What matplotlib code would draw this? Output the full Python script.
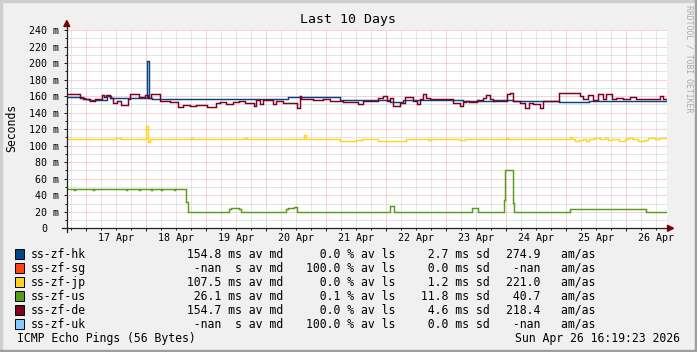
import numpy as np
import matplotlib.pyplot as plt
from matplotlib.patches import Rectangle, Polygon
from matplotlib.lines import Line2D
from matplotlib.transforms import ScaledTranslation

plt.rcParams['font.family'] = 'DejaVu Sans Mono'

W, H = 697, 352

# time axis: day of April 2026 (16 Apr 16:19 .. 26 Apr 16:19)
t_start = 16 + 16.32 / 24
t_end = t_start + 10

day_ticks = list(range(17, 27))
day_labels = ['17 Apr', '18 Apr', '19 Apr', '20 Apr', '21 Apr',
              '22 Apr', '23 Apr', '24 Apr', '25 Apr', '26 Apr']

# median rtt per host (ms), step series: start time, value
hk_t = [16.68, 16.95, 17.05, 17.35, 17.42, 18.02, 18.05, 18.10, 20.37, 21.23,
        22.06, 22.28, 23.28, 23.80, 24.12, 24.89, 25.39, 25.50]
hk_v = [158.5, 156.5, 155.5, 160, 158, 202, 157.5, 156.5, 158.5, 155.5,
        152.5, 155, 154.5, 155, 154, 152.5, 154.5, 153.5]

jp_t = [16.68, 17.50, 17.58, 18.00, 18.03, 18.06, 18.75, 18.78, 19.65, 19.68,
        20.63, 20.66, 21.23, 21.50, 21.60, 21.87, 22.34, 22.72, 22.75, 23.23,
        23.31, 24.01, 24.04, 25.06, 25.10, 25.15, 25.22, 25.28, 25.33, 25.39,
        25.47, 25.57, 25.65, 25.70, 25.76, 25.89, 25.98, 26.03, 26.12, 26.20,
        26.30, 26.37, 26.48, 26.55]
jp_v = [108, 109.5, 108, 124, 105, 108, 109, 108, 109, 108,
        112.5, 108, 105.5, 106.5, 108, 105.5, 108, 107, 108, 106.5,
        108, 109.5, 108, 110.5, 107.5, 105.5, 106.5, 107.5, 106, 108,
        109, 108, 109.5, 106.5, 108, 105.5, 107.5, 109, 108, 105.5,
        106.5, 109.5, 108.5, 109.5]

us_t = [16.68, 16.80, 16.82, 17.12, 17.14, 17.67, 17.69, 17.88, 17.90, 18.08,
        18.10, 18.25, 18.27, 18.47, 18.49, 18.66, 18.70, 19.39, 19.42, 19.55,
        19.58, 20.33, 20.36, 20.47, 20.52, 22.07, 22.14, 23.43, 23.53, 23.97,
        23.99, 24.11, 24.14, 25.07, 26.33]
us_v = [47, 46, 47, 46, 47, 46, 47, 46, 47, 46,
        47, 46, 47, 46, 47, 32, 19.5, 23, 24.5, 23,
        19.5, 23, 24.5, 26, 19.5, 27, 19.5, 24, 19.5, 34,
        70, 31, 19.5, 23.5, 19.5]

de_t = [16.68, 16.90, 16.98, 17.06, 17.15, 17.26, 17.30, 17.34, 17.40, 17.45,
        17.51, 17.59, 17.70, 17.73, 17.89, 17.98, 18.03, 18.09, 18.23, 18.40,
        18.53, 18.62, 18.73, 18.84, 19.01, 19.17, 19.23, 19.34, 19.45, 19.55,
        19.65, 19.80, 19.84, 19.90, 19.95, 20.12, 20.17, 20.28, 20.51, 20.56,
        20.59, 20.78, 20.95, 21.06, 21.28, 21.53, 21.62, 21.87, 21.95, 22.01,
        22.06, 22.12, 22.23, 22.31, 22.45, 22.51, 22.56, 22.62, 22.67, 22.73,
        22.95, 23.12, 23.23, 23.28, 23.34, 23.39, 23.51, 23.62, 23.67, 23.73,
        23.78, 24.01, 24.06, 24.12, 24.23, 24.31, 24.39, 24.45, 24.56, 24.62,
        24.89, 25.23, 25.28, 25.37, 25.45, 25.53, 25.62, 25.67, 25.76, 25.84,
        25.95, 26.06, 26.17, 26.56, 26.62]
de_v = [162, 158, 156, 154, 157, 161, 159, 161, 158, 152,
        154, 149, 156, 162, 159, 161, 158, 162, 154, 153,
        147, 149, 148, 149, 147, 152, 153, 151, 153, 154,
        152, 148, 155, 150, 155, 150, 154, 152, 146, 160,
        156, 155, 157, 154, 153, 150, 154, 158, 160, 154,
        158, 148, 152, 159, 154, 150, 157, 162, 158, 156,
        157, 152, 148, 153, 154, 153, 155, 158, 161, 156,
        154, 162, 164, 154, 152, 146, 152, 150, 146, 154,
        164, 160, 156, 161, 155, 162, 156, 163, 156, 158,
        156, 159, 156, 160, 156]

# legend table
names = ['ss-zf-hk', 'ss-zf-sg', 'ss-zf-jp', 'ss-zf-us', 'ss-zf-de', 'ss-zf-uk']
colors = ['#004586', '#ff420e', '#ffd320', '#579d1c', '#7e0021', '#83caff']
med = [154.8, np.nan, 107.5, 26.1, 154.7, np.nan]
loss = [0.0, 100.0, 0.0, 0.1, 0.0, 100.0]
sd = [2.7, 0.0, 1.2, 11.8, 4.6, 0.0]
ratio = [274.9, np.nan, 221.0, 40.7, 218.4, np.nan]

series = {'ss-zf-hk': (hk_t, hk_v), 'ss-zf-jp': (jp_t, jp_v),
          'ss-zf-us': (us_t, us_v), 'ss-zf-de': (de_t, de_v)}


def fx(px):
    return px / W


def fy(py):
    return 1 - py / H


fig = plt.figure(figsize=(W / 100, H / 100), dpi=100, facecolor='#F0F0F0')

# shaded border like rrdtool
fig.patches.append(Rectangle((0, fy(2)), 1, 2 / H, transform=fig.transFigure, color='#CFCFCF'))
fig.patches.append(Rectangle((0, 0), 2 / W, 1, transform=fig.transFigure, color='#CFCFCF'))
fig.patches.append(Rectangle((0, 0), 1, 2 / H, transform=fig.transFigure, color='#9E9E9E'))
fig.patches.append(Rectangle((fx(W - 2), 0), 2 / W, 1, transform=fig.transFigure, color='#9E9E9E'))

ax_top, ax_bot = 30.0, 228.3
ax = fig.add_axes([fx(66.8), fy(ax_bot), 600 / W, (ax_bot - ax_top) / H])
ax.set_facecolor('white')
ax.set_xlim(t_start, t_end)
ax.set_ylim(0, 240)
for s in ax.spines.values():
    s.set_visible(False)

# grid
ax.set_xticks(day_ticks)
ax.set_xticks(np.arange(16.75, 26.7, 0.25), minor=True)
ax.set_yticks(range(0, 241, 20))
ax.set_yticks(range(10, 240, 20), minor=True)
ax.grid(True, which='minor', color='#CCCCCC', linestyle=(0, (1, 1)), linewidth=0.72)
ax.grid(True, which='major', color='#F0A8A8', linestyle=(0, (1, 1)), linewidth=0.72)
for gl in ax.get_xgridlines() + ax.get_ygridlines():
    gl.set_clip_on(False)
ax.set_axisbelow(True)

ax.tick_params(which='both', direction='out', color='#202020', width=0.72)
ax.tick_params(axis='x', which='major', length=2.5, labelbottom=False)
ax.tick_params(axis='x', which='minor', length=1.5)
ax.tick_params(axis='y', which='major', length=2.2, pad=3.2, labelsize=7.2)
ax.tick_params(axis='y', which='minor', length=1.5)
ax.set_yticklabels([f'{v} m' if v else '0' for v in range(0, 241, 20)])
zero_lbl = ax.get_yticklabels()[0]
zero_lbl.set_transform(zero_lbl.get_transform() + ScaledTranslation(-11.8 / 100, 0, fig.dpi_scale_trans))

for d, lab in zip(day_ticks, day_labels):
    ax.annotate(lab, xy=(d + 0.5, 0), xycoords=ax.get_xaxis_transform(),
                xytext=(0, -12.4 * 0.72), textcoords='offset points',
                ha='center', va='baseline', fontsize=7.2, color='black')

# data lines
for name, col in zip(names, colors):
    if name not in series:
        continue
    t, v = series[name]
    ax.plot(list(t) + [t_end], list(v) + [v[-1]], drawstyle='steps-post',
            color=col, linewidth=1.05, solid_joinstyle='miter')

# axes lines and arrows
fig.lines.append(Line2D([fx(62), fx(668)], [fy(ax_bot), fy(ax_bot)], transform=fig.transFigure,
                        color='#202020', linewidth=0.9))
fig.lines.append(Line2D([fx(66.8), fx(66.8)], [fy(232), fy(25)], transform=fig.transFigure,
                        color='#202020', linewidth=0.9))
fig.patches.append(Polygon([(fx(667.5), fy(225.3)), (fx(673.5), fy(ax_bot)), (fx(667.5), fy(231.3))],
                           closed=True, transform=fig.transFigure, color='#800000'))
fig.patches.append(Polygon([(fx(63.8), fy(26.5)), (fx(66.8), fy(20.5)), (fx(69.8), fy(26.5))],
                           closed=True, transform=fig.transFigure, color='#800000'))

# titles
fig.text(fx(348), fy(23.3), 'Last 10 Days', ha='center', va='baseline', fontsize=9.5)
fig.text(fx(11.5), fy(127.5), 'Seconds', rotation=90, ha='center', va='center', fontsize=8.3)
fig.text(fx(688.5), fy(59), 'RRDTOOL / TOBI OETIKER', rotation=270, ha='center', va='center',
         fontsize=5.9, color='#AAAAAA')

# legend
fs = 8.3
for i, name in enumerate(names):
    base = 257.7 + 14 * i
    fig.patches.append(Rectangle((fx(15.3), fy(base + 1.3)), 8.7 / W, 9.7 / H,
                                 transform=fig.transFigure, facecolor=colors[i],
                                 edgecolor='black', linewidth=0.7))
    fig.text(fx(30.7), fy(base), name, va='baseline', fontsize=fs)
    m = '  -nan  s av md' if np.isnan(med[i]) else f'{med[i]:6.1f} ms av md'
    fig.text(fx(179.8), fy(base), m, va='baseline', fontsize=fs)
    fig.text(fx(306), fy(base), f'{loss[i]:5.1f} % av ls', va='baseline', fontsize=fs)
    fig.text(fx(414), fy(base), f'{sd[i]:5.1f} ms sd', va='baseline', fontsize=fs)
    r = ' -nan' if np.isnan(ratio[i]) else f'{ratio[i]:5.1f}'
    fig.text(fx(505.7), fy(base), r + '   am/as', va='baseline', fontsize=fs)

fig.text(fx(16.7), fy(341.7), 'ICMP Echo Pings (56 Bytes)', va='baseline', fontsize=fs)
fig.text(fx(680), fy(341.7), 'Sun Apr 26 16:19:23 2026', ha='right', va='baseline', fontsize=fs)

fig.savefig('out.png', dpi=100, facecolor=fig.get_facecolor())
